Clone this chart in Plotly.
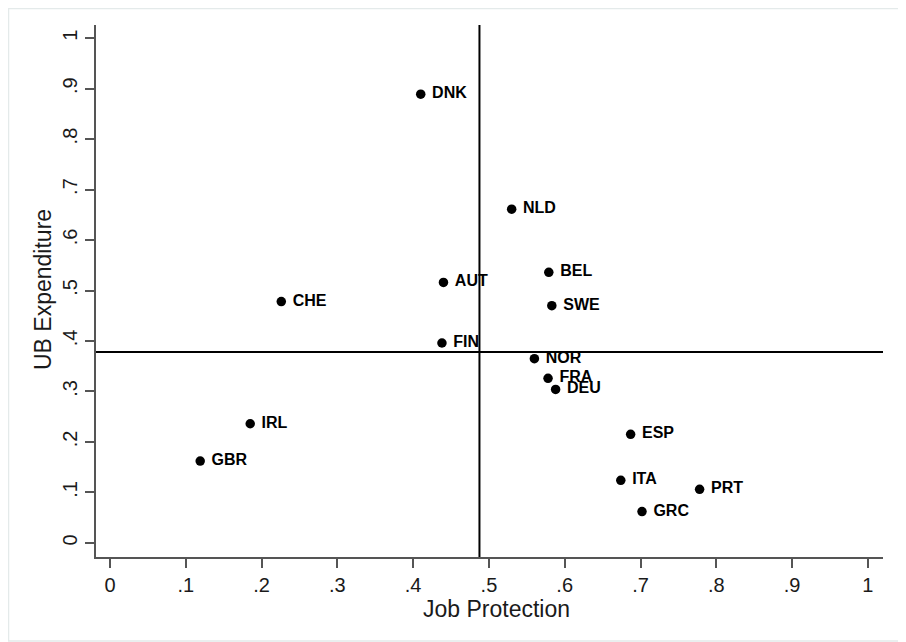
import plotly.graph_objects as go

countries = ["DNK", "NLD", "BEL", "AUT", "SWE", "CHE", "FIN", "NOR", "FRA", "DEU",
             "IRL", "ESP", "GBR", "ITA", "PRT", "GRC"]
job_protection = [0.410, 0.530, 0.579, 0.440, 0.583, 0.226, 0.438, 0.560, 0.578, 0.588,
                  0.185, 0.687, 0.119, 0.674, 0.778, 0.702]
ub_expenditure = [0.889, 0.661, 0.536, 0.516, 0.470, 0.478, 0.396, 0.365, 0.326, 0.304,
                  0.236, 0.215, 0.162, 0.124, 0.106, 0.062]
mean_x = 0.4875
mean_y = 0.378
tick_vals = [0, 0.1, 0.2, 0.3, 0.4, 0.5, 0.6, 0.7, 0.8, 0.9, 1.0]
tick_text = ["0", ".1", ".2", ".3", ".4", ".5", ".6", ".7", ".8", ".9", "1"]

# page has an 8px body margin; figure drawn from (8, 8)
OFF = 8
W, H = 906 - OFF, 642 - OFF
L, T = 96 - OFF, 25 - OFF
R = W - (883 - OFF)
B = H - (557 - OFF)
pw, ph = W - L - R, H - T - B

def px_x(p):
    return (p - OFF - L) / pw

def px_y(p):
    return (H - B - (p - OFF)) / ph

FONT = "Arial, Liberation Sans, sans-serif"
TXT = "#1a1a1a"

fig = go.Figure()
fig.add_trace(go.Scatter(
    x=job_protection, y=ub_expenditure, text=["\u00a0" + c for c in countries],
    mode="markers+text", textposition="middle right",
    marker=dict(color="black", size=9.5),
    textfont=dict(family=FONT, size=16, color="black", weight="bold"),
    cliponaxis=False, showlegend=False, hoverinfo="skip",
))

axis_common = dict(
    showgrid=False, zeroline=False, showline=True, linecolor="#555555", linewidth=1.5,
    ticks="outside", ticklen=9, tickcolor="#555555", tickwidth=1.5,
    tickvals=tick_vals, ticktext=tick_text,
    tickfont=dict(family=FONT, size=20, color=TXT),
)

fig.update_layout(
    width=W, height=H,
    margin=dict(l=L, r=R, t=T, b=B, autoexpand=False),
    paper_bgcolor="white", plot_bgcolor="white",
    xaxis=dict(range=[-0.0185, 1.02], **axis_common),
    yaxis=dict(range=[-0.028, 1.026], tickangle=-90, **axis_common),
    annotations=[
        dict(text="Job Protection", xref="paper", yref="paper", x=px_x(496), y=px_y(609),
             xanchor="center", yanchor="middle", showarrow=False,
             font=dict(family=FONT, size=23, color=TXT)),
        dict(text="UB Expenditure", xref="paper", yref="paper", x=px_x(43), y=px_y(290),
             xanchor="center", yanchor="middle", showarrow=False, textangle=-90,
             font=dict(family=FONT, size=23, color=TXT)),
    ],
    shapes=[
        dict(type="line", xref="x", yref="paper", x0=mean_x, x1=mean_x, y0=0, y1=1,
             line=dict(color="black", width=2)),
        dict(type="line", xref="paper", yref="y", x0=0, x1=1, y0=mean_y, y1=mean_y,
             line=dict(color="black", width=2)),
        dict(type="rect", xref="paper", yref="paper",
             x0=px_x(8.5), x1=px_x(903), y0=px_y(641), y1=px_y(8.5),
             line=dict(color="#e4eaea", width=1.5), layer="below"),
    ],
)

fig.write_html("out.html")
